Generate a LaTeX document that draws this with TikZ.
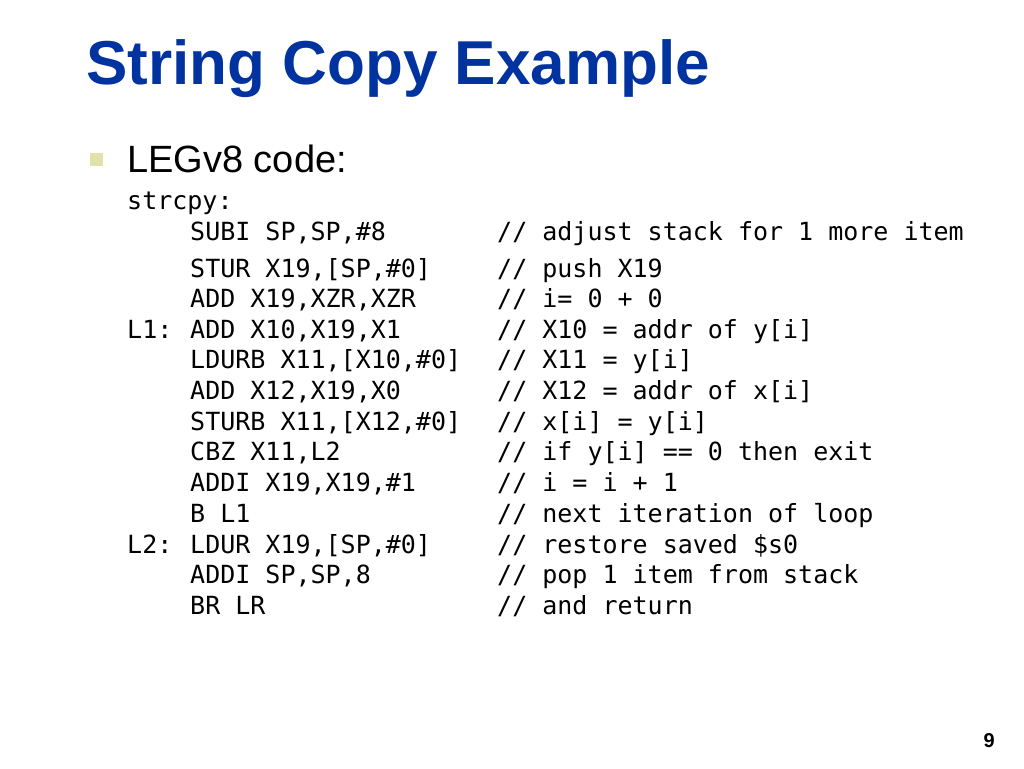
\documentclass[tikz,border=0pt]{standalone}
\usepackage{fontspec}
\setmainfont{Liberation Sans}
\newfontfamily\codefont{DejaVu Sans Mono}
\definecolor{titleblue}{RGB}{0,51,160}
\definecolor{bulletc}{RGB}{225,225,170}
\begin{document}
\begin{tikzpicture}[x=1pt,y=-1pt,
  code/.style={anchor=base west,inner sep=0pt,font=\codefont\fontsize{25}{25}\selectfont}]
\useasboundingbox (0,0) rectangle (1024,768);
\node[anchor=base west,inner sep=0pt,text=titleblue,font=\bfseries\fontsize{62}{62}\selectfont] (title) at (86,84) {String Copy Example};
\fill[bulletc] (90,153) rectangle (103,166);
\node[anchor=base west,inner sep=0pt,font=\fontsize{38}{38}\selectfont] (leg) at (127,172) {LEGv8 code:};
\foreach \y/\l/\i/\c [count=\n] in {
 209/strcpy:/{}/{},
 240/{}/{SUBI SP,SP,\#8}/{// adjust stack for 1 more item},
 277/{}/{STUR X19,[SP,\#0]}/{ // push X19},
 307/{}/{ADD X19,XZR,XZR}/{// i= 0 + 0},
 338/L1:/{ADD X10,X19,X1}/{// X10 = addr of y[i]},
 368/{}/{LDURB X11,[X10,\#0]}/{// X11 = y[i]},
 399/{}/{ADD X12,X19,X0}/{// X12 = addr of x[i]},
 430/{}/{STURB X11,[X12,\#0]}/{// x[i] = y[i]},
 460/{}/{CBZ X11,L2}/{// if y[i] == 0 then exit},
 491/{}/{ADDI X19,X19,\#1}/{// i = i + 1},
 522/{}/{B L1}/{// next iteration of loop},
 553/L2:/{LDUR X19,[SP,\#0]}/{// restore saved \$s0},
 583/{}/{ADDI SP,SP,8}/{// pop 1 item from stack},
 614/{}/{BR LR}/{// and return}}{
  \node[code] (lab\n) at (127,\y) {\l};
  \node[code] (ins\n) at (190,\y) {\i};
  \node[code] (com\n) at (497,\y) {\c};
}
\node[anchor=base east,inner sep=0pt,font=\bfseries\fontsize{20}{20}\selectfont] (pg) at (995,747) {9};
\end{tikzpicture}
\end{document}
